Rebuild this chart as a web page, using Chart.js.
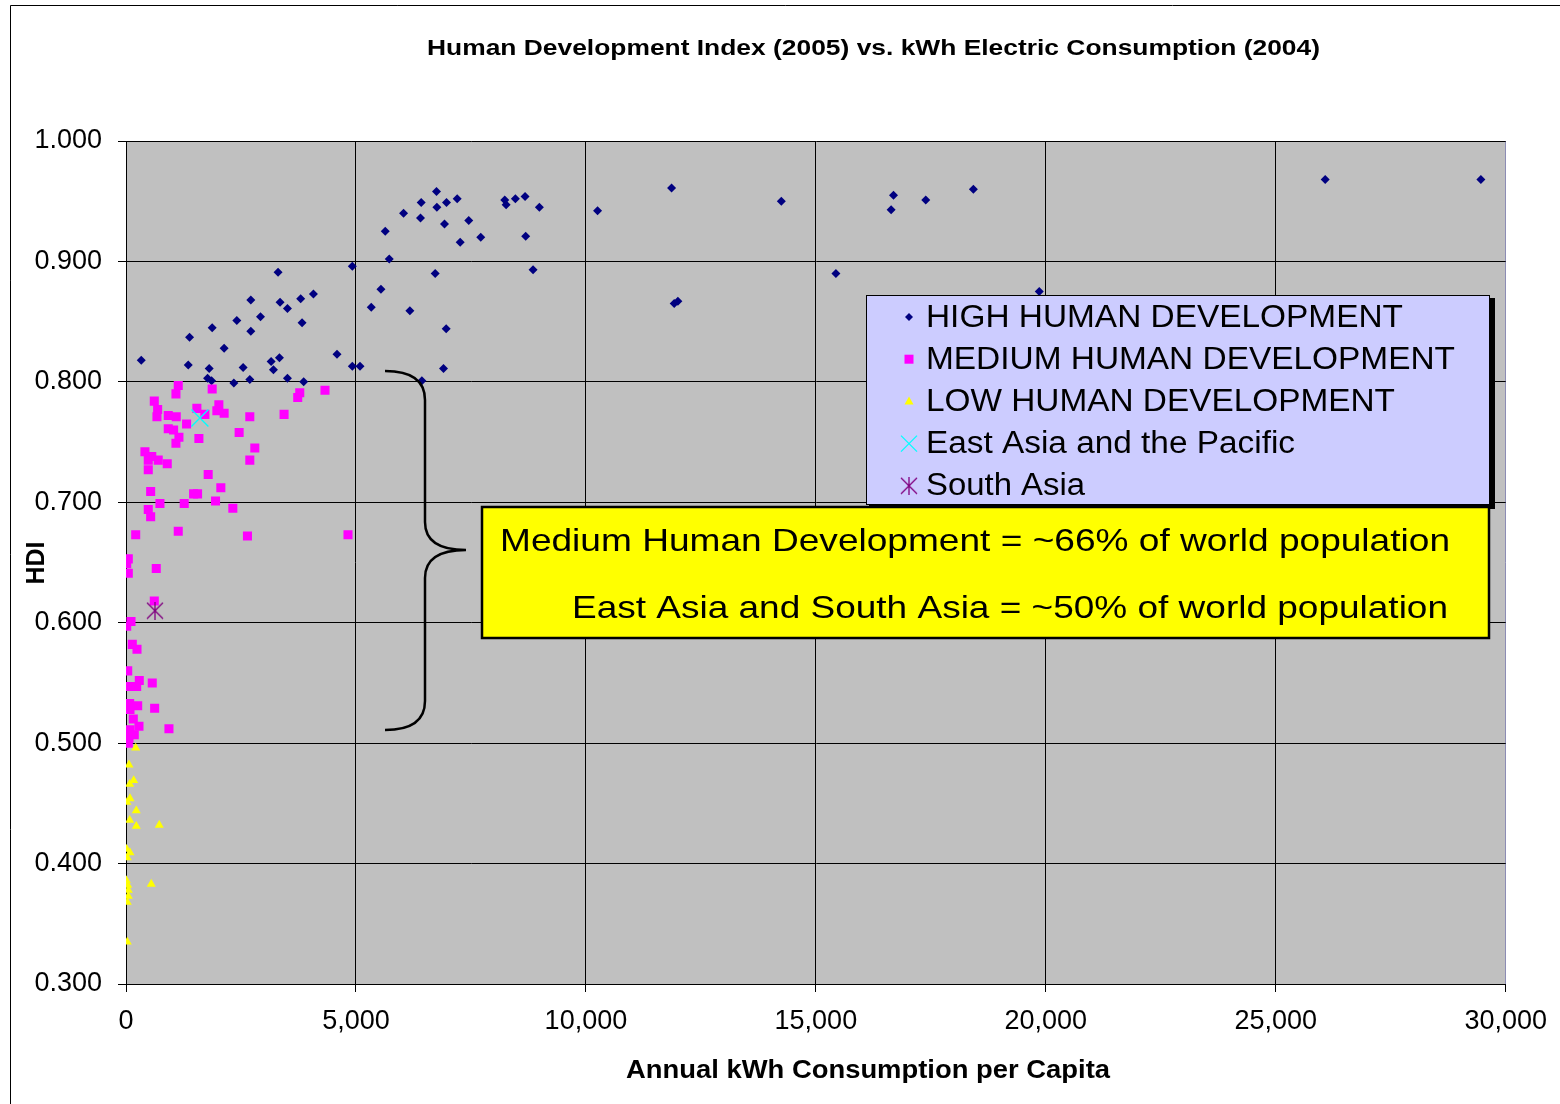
<!DOCTYPE html>
<html>
<head>
<meta charset="utf-8">
<title>HDI vs kWh</title>
<script src="https://cdn.jsdelivr.net/npm/chart.js@4.4.1/dist/chart.umd.min.js"></script>
<style>
  body { margin: 0; background: #fff; }
  canvas { display: block; }
</style>
</head>
<body>
<canvas id="hdiChart" width="1560" height="1104"></canvas>
<script>
const FONT = '"Liberation Sans", Arial, sans-serif';

// annual kWh per capita (2004) and HDI (2005)
const highKwh = [332, 1382, 1353, 1874, 1809, 1773, 1860, 2134, 2410, 2714, 2714, 2924, 2547, 2345, 2692,
  3307, 3350, 3510, 3799, 4075, 3828, 3155, 3336, 3206, 3510, 3864, 4588, 4921, 4921, 5088,
  5333, 5543, 5637, 5724, 6035, 6172, 6419, 6404, 6752, 6759, 6969, 7201, 6925, 7453, 7266,
  7714, 6723, 6962, 6904, 6433, 8235, 8265, 8467, 8677, 8988, 8691, 8851, 10254, 11862, 14249,
  11920, 12000, 16688, 16637, 17390, 18425, 15436, 19858, 26075, 29460];
const highHdi = [0.818, 0.837, 0.814, 0.845, 0.811, 0.803, 0.801, 0.828, 0.851, 0.868, 0.842, 0.854, 0.812, 0.799, 0.802,
  0.891, 0.866, 0.861, 0.869, 0.873, 0.849, 0.817, 0.820, 0.810, 0.803, 0.800, 0.823, 0.896, 0.813, 0.813,
  0.862, 0.877, 0.925, 0.902, 0.940, 0.859, 0.949, 0.936, 0.958, 0.945, 0.949, 0.952, 0.931, 0.934, 0.916,
  0.920, 0.890, 0.844, 0.811, 0.801, 0.951, 0.947, 0.952, 0.954, 0.945, 0.921, 0.893, 0.942, 0.961, 0.950,
  0.865, 0.867, 0.955, 0.943, 0.951, 0.960, 0.890, 0.875, 0.968, 0.968];

const medKwh = [1136, 1086, 1874, 615, 688, 673, 919, 1093, 1541, 1715, 2019, 1976, 2134, 1317, 919,
  1035, 1151, 1086, 1585, 2692, 2460, 2801, 2692, 3437, 3778, 3734, 4327, 412, 560, 484,
  701, 897, 484, 1787, 536, 738, 484, 536, 1266, 1470, 1556, 2062, 1947, 2323, 211,
  1136, 2641, 4827, 50, 15, 50, 658, 615, 109, 15, 137, 239, 37, 289, 571,
  15, 124, 232, 80, 254, 623, 87, 159, 282, 87, 934, 180, 65, 50];
const medHdi = [0.797, 0.790, 0.794, 0.784, 0.777, 0.771, 0.772, 0.771, 0.778, 0.773, 0.781, 0.776, 0.774, 0.765, 0.761,
  0.760, 0.754, 0.749, 0.753, 0.771, 0.758, 0.745, 0.735, 0.773, 0.791, 0.787, 0.793, 0.742, 0.738, 0.735,
  0.735, 0.732, 0.727, 0.723, 0.709, 0.699, 0.694, 0.688, 0.699, 0.707, 0.707, 0.712, 0.701, 0.695, 0.673,
  0.676, 0.672, 0.673, 0.653, 0.649, 0.641, 0.645, 0.618, 0.601, 0.597, 0.582, 0.578, 0.560, 0.552, 0.550,
  0.547, 0.547, 0.547, 0.533, 0.531, 0.529, 0.528, 0.520, 0.514, 0.511, 0.512, 0.507, 0.504, 0.500];

const lowKwh = [211, 65, 167, 80, 87, 22, 224, 80, 224, 723, 15, 87, 28, 7, 37, 50, 50, 28, 549, 28];
const lowHdi = [0.496, 0.482, 0.469, 0.466, 0.454, 0.451, 0.444, 0.436, 0.431, 0.432, 0.412, 0.409, 0.405, 0.386, 0.382,
  0.378, 0.373, 0.368, 0.383, 0.335];

const eastAsiaKwh = [1607];
const eastAsiaHdi = [0.770];
const southAsiaKwh = [630];
const southAsiaHdi = [0.610];

const seriesNames = ['HIGH HUMAN DEVELOPMENT', 'MEDIUM HUMAN DEVELOPMENT', 'LOW HUMAN DEVELOPMENT',
  'East Asia and the Pacific', 'South Asia'];
const xTicks = [0, 5000, 10000, 15000, 20000, 25000, 30000];
const chartTitle = 'Human Development Index (2005) vs. kWh Electric Consumption (2004)';
const xTitle = 'Annual kWh Consumption per Capita';
const yTitle = 'HDI';
const noteLines = ['Medium Human Development = ~66% of world population',
  'East Asia and South Asia = ~50% of world population'];

function pts(xs, ys) {
  return xs.map((x, i) => ({ x: x, y: ys[i] }));
}

// excel style "star": an X with a vertical bar
function starMarker(size, color) {
  const c = document.createElement('canvas');
  c.width = size; c.height = size;
  const g = c.getContext('2d');
  const m = size / 2, r = size / 2 - 1;
  g.strokeStyle = color;
  g.lineWidth = 1.3;
  g.beginPath();
  g.moveTo(m - r, m - r); g.lineTo(m + r, m + r);
  g.moveTo(m + r, m - r); g.lineTo(m - r, m + r);
  g.moveTo(m, m - r - 1); g.lineTo(m, m + r + 1);
  g.stroke();
  return c;
}
const southStar = starMarker(18, '#800080');

// excel renders its text a bit wider than Arial: stretch to the width seen in the picture
function fitText(ctx, text, x, y, width) {
  const w0 = ctx.measureText(text).width;
  ctx.save();
  ctx.translate(x, y);
  ctx.scale(width / w0, 1);
  ctx.fillText(text, 0, 0);
  ctx.restore();
}

function drawMarker(ctx, kind, x, y) {
  ctx.save();
  ctx.beginPath();
  if (kind === 0) {
    ctx.fillStyle = '#000080';
    ctx.moveTo(x, y - 4); ctx.lineTo(x + 4, y); ctx.lineTo(x, y + 4); ctx.lineTo(x - 4, y);
    ctx.closePath(); ctx.fill();
  } else if (kind === 1) {
    ctx.fillStyle = '#FF00FF';
    ctx.fillRect(x - 4.5, y - 4.5, 9, 9);
  } else if (kind === 2) {
    ctx.fillStyle = '#FFFF00';
    ctx.moveTo(x, y - 5); ctx.lineTo(x + 4.5, y + 3); ctx.lineTo(x - 4.5, y + 3);
    ctx.closePath(); ctx.fill();
  } else if (kind === 3) {
    ctx.strokeStyle = '#00FFFF'; ctx.lineWidth = 1.3;
    ctx.moveTo(x - 8, y - 8); ctx.lineTo(x + 8, y + 8);
    ctx.moveTo(x + 8, y - 8); ctx.lineTo(x - 8, y + 8);
    ctx.stroke();
  } else {
    ctx.drawImage(southStar, x - 9, y - 9);
  }
  ctx.restore();
}

const decorations = {
  id: 'decorations',
  beforeDraw(chart) {
    const ctx = chart.ctx;
    const a = chart.chartArea;
    ctx.save();
    ctx.fillStyle = '#fff';
    ctx.fillRect(0, 0, chart.width, chart.height);
    ctx.fillStyle = '#C0C0C0';
    ctx.fillRect(a.left, a.top, a.right - a.left, a.bottom - a.top);
    // outer chart border
    ctx.strokeStyle = '#000';
    ctx.lineWidth = 1;
    ctx.beginPath();
    ctx.moveTo(10.5, chart.height); ctx.lineTo(10.5, 5.5); ctx.lineTo(chart.width, 5.5);
    ctx.stroke();
    ctx.restore();
  },
  afterDraw(chart) {
    const ctx = chart.ctx;
    ctx.save();
    ctx.fillStyle = '#000';
    ctx.textBaseline = 'alphabetic';
    ctx.textAlign = 'left';

    ctx.font = 'bold 22px ' + FONT;
    fitText(ctx, chartTitle, 427, 55, 893);
    ctx.font = 'bold 25px ' + FONT;
    fitText(ctx, xTitle, 626, 1078, 484);
    ctx.save();
    ctx.translate(44, 563);
    ctx.rotate(-Math.PI / 2);
    ctx.textAlign = 'center';
    ctx.fillText(yTitle, 0, 0);
    ctx.restore();

    // brace
    ctx.strokeStyle = '#000';
    ctx.lineWidth = 2.5;
    ctx.beginPath();
    ctx.moveTo(385, 371);
    ctx.quadraticCurveTo(425, 371, 425, 400);
    ctx.lineTo(425, 522);
    ctx.quadraticCurveTo(425, 550, 466, 550);
    ctx.quadraticCurveTo(425, 550, 425, 578);
    ctx.lineTo(425, 701);
    ctx.quadraticCurveTo(425, 730, 385, 730);
    ctx.stroke();

    // legend
    ctx.fillStyle = '#000';
    ctx.fillRect(869, 298, 626, 211);
    ctx.fillStyle = '#CCCCFF';
    ctx.fillRect(866, 295, 624, 210);
    ctx.strokeStyle = '#000';
    ctx.lineWidth = 1;
    ctx.strokeRect(866.5, 295.5, 623, 209);
    const legendWidths = [477, 529, 469, 369, 159];
    ctx.font = '31px ' + FONT;
    ctx.textBaseline = 'middle';
    seriesNames.forEach((name, i) => {
      const y = 317 + i * 42.2;
      drawMarker(ctx, i, 909, y);
      ctx.fillStyle = '#000';
      fitText(ctx, name, 926, y + 1, legendWidths[i]);
    });

    // yellow note
    ctx.fillStyle = '#FFFF00';
    ctx.fillRect(481, 506, 1009, 133);
    ctx.strokeStyle = '#000';
    ctx.lineWidth = 2.5;
    ctx.strokeRect(482, 507, 1007, 131);
    ctx.fillStyle = '#000';
    ctx.font = '32px ' + FONT;
    ctx.textBaseline = 'alphabetic';
    fitText(ctx, noteLines[0], 500, 551, 950);
    fitText(ctx, noteLines[1], 572, 618, 876);
    ctx.restore();
  }
};

const tickFont = { family: FONT, size: 27 };

new Chart(document.getElementById('hdiChart').getContext('2d'), {
  type: 'scatter',
  data: {
    datasets: [
      { label: seriesNames[0], data: pts(highKwh, highHdi), pointStyle: 'rectRot', pointRadius: 4.5,
        backgroundColor: '#000080', borderColor: '#000080', borderWidth: 0, order: 5 },
      { label: seriesNames[1], data: pts(medKwh, medHdi), pointStyle: 'rect', pointRadius: 6.4,
        backgroundColor: '#FF00FF', borderColor: '#FF00FF', borderWidth: 0, order: 4 },
      { label: seriesNames[2], data: pts(lowKwh, lowHdi), pointStyle: 'triangle', pointRadius: 5.2,
        backgroundColor: '#FFFF00', borderColor: '#FFFF00', borderWidth: 0, order: 3 },
      { label: seriesNames[3], data: pts(eastAsiaKwh, eastAsiaHdi), pointStyle: 'crossRot', pointRadius: 12,
        borderColor: '#00FFFF', borderWidth: 1.3, order: 2 },
      { label: seriesNames[4], data: pts(southAsiaKwh, southAsiaHdi), pointStyle: southStar,
        order: 1 }
    ]
  },
  options: {
    responsive: false,
    animation: false,
    devicePixelRatio: 1,
    layout: { padding: { top: 141, right: 52, left: 0, bottom: 0 } },
    plugins: {
      legend: { display: false },
      tooltip: { enabled: false },
      title: { display: false }
    },
    scales: {
      x: {
        type: 'linear',
        min: 0,
        max: 30000,
        afterBuildTicks: scale => { scale.ticks = xTicks.map(v => ({ value: v })); },
        afterFit: scale => { scale.height = 120; },
        ticks: {
          font: tickFont,
          color: '#000',
          padding: 13,
          maxRotation: 0,
          callback: v => v.toLocaleString('en-US')
        },
        grid: {
          color: ctx => (ctx.tick && ctx.tick.value === 30000 ? '#8C8CB4' : '#000'),
          tickColor: '#000',
          lineWidth: 1,
          tickLength: 8
        },
        border: { color: '#000', width: 1 }
      },
      y: {
        min: 0.3,
        max: 1.0,
        afterFit: scale => { scale.width = 126; },
        ticks: {
          stepSize: 0.1,
          font: tickFont,
          color: '#000',
          padding: 16,
          callback: v => v.toFixed(3)
        },
        grid: { color: '#000', lineWidth: 1, tickLength: 8 },
        border: { color: '#000', width: 1 }
      }
    }
  },
  plugins: [decorations]
});
</script>
</body>
</html>
